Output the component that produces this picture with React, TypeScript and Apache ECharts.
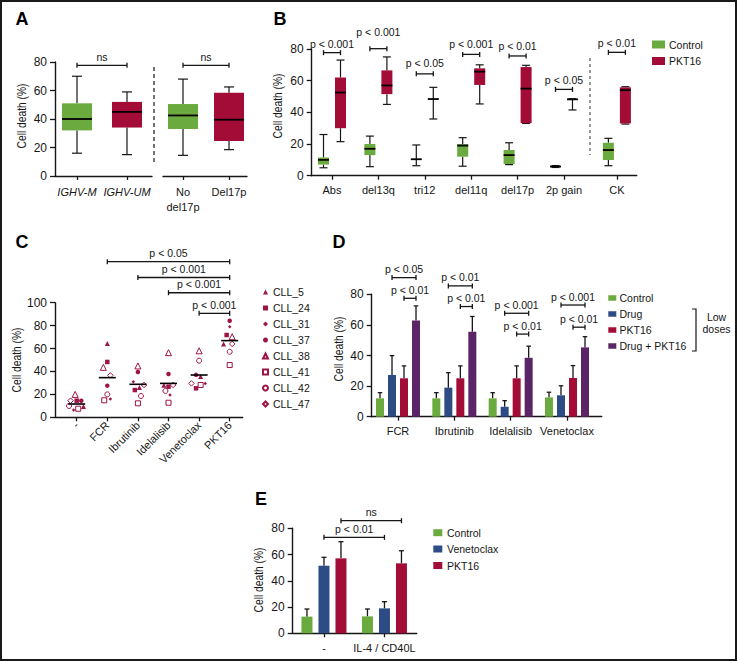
import React, { useEffect, useRef } from 'react';
import * as echarts from 'echarts';

// ---------------- Panel A ----------------
const A_LEFT_CATS = ['IGHV-M', 'IGHV-UM'];
const A_RIGHT_CATS = ['No\ndel17p', 'Del17p'];
// [min, q1, median, q3, max]
const A_LEFT_BOXES = [
  [16, 32, 40, 51, 70],
  [15, 34, 45, 52, 59],
];
const A_RIGHT_BOXES = [
  [14.5, 33, 42.5, 50.5, 68],
  [18.5, 24.5, 39.5, 58.5, 62.5],
];
const A_SIG_TEXT = ['ns', 'ns'];
const A_SIG_Y = [77.7, 77.7];

// ---------------- Panel B ----------------
const B_CATS = ['Abs', 'del13q', 'tri12', 'del11q', 'del17p', '2p gain', 'CK'];
const B_CONTROL = [
  [5, 7, 10, 11.5, 26],
  [5.7, 13, 17, 20, 25],
  [6.3, 10.4, 10.4, 10.4, 19.4],
  [6, 12, 19, 20, 24],
  [7, 7.4, 13, 16.2, 20.8],
  [5.2, 5.5, 5.8, 6.1, 6.4],
  [6.3, 9.9, 16.2, 20.8, 23.6],
];
const B_PKT16 = [
  [21.5, 30, 52.5, 62, 73],
  [45, 51.5, 57, 66.5, 75],
  [35.8, 48.4, 48.4, 48.4, 55.8],
  [45.3, 57.3, 65.7, 67.8, 70],
  [33, 33.2, 55, 68.6, 69.7],
  [41.5, 48, 48.2, 48.4, 48.6],
  [32.6, 33, 54, 55.8, 56.2],
];
const B_SIG_TEXT = ['p < 0.001', 'p < 0.001', 'p < 0.05', 'p < 0.001', 'p < 0.01', 'p < 0.05', 'p < 0.01'];
const B_SIG_Y = [77.7, 80.2, 64.3, 76.6, 75.6, 54.5, 77.9];

// ---------------- Panel C ----------------
const C_CATS = ['-', 'FCR', 'Ibrutinib', 'Idelalisib', 'Venetoclax', 'PKT16'];
const C_SAMPLES = ['CLL_5', 'CLL_24', 'CLL_31', 'CLL_37', 'CLL_38', 'CLL_41', 'CLL_42', 'CLL_47'];
const C_VALUES = [
  [9.5, 64.5, 26, 28, 35.5, 64],
  [14.5, 48.3, 23.8, 26.7, 25.3, 71.8],
  [6.4, 16, 31, 19.4, 29.6, 79],
  [14.5, 27.6, 39.5, 37.8, 37, 84.3],
  [20, 43.6, 44.8, 56.4, 58, 70.3],
  [7.5, 14.8, 12.2, 12.7, 28.2, 45.6],
  [9.9, 20, 18.6, 23, 49.4, 57.2],
  [14.5, 36.6, 28.2, 28.2, 29.6, 64],
];
// horizontal scatter of each point inside its column
const C_JITTER = [
  [0.22, 0, 0.05, -0.15, 0.05, -0.2],
  [0, 0, -0.1, 0, -0.1, -0.1],
  [-0.1, 0.1, -0.15, 0.05, 0.2, 0],
  [0.15, 0, 0, 0, -0.1, 0],
  [-0.05, -0.13, 0, 0, 0, 0.08],
  [0.05, -0.1, 0, 0, 0.05, 0],
  [-0.25, 0, 0.1, -0.1, 0, 0],
  [-0.2, 0.1, 0.2, 0.15, -0.25, 0.08],
];
const C_MEDIANS = [11.6, 34.6, 28.8, 29.6, 36.9, 66.9];
const C_SIG_FROM = [1, 2, 3, 4];
const C_SIG_TEXT = ['p < 0.05', 'p < 0.001', 'p < 0.001', 'p < 0.001'];
const C_SIG_Y = [135.8, 122, 108.7, 90.7];

// ---------------- Panel D ----------------
const D_CATS = ['FCR', 'Ibrutinib', 'Idelalisib', 'Venetoclax'];
const D_SERIES = ['Control', 'Drug', 'PKT16', 'Drug + PKT16'];
const D_CONTROL = [12, 12, 12, 12.6];
const D_CONTROL_ERR = [3.7, 3.7, 3.7, 3.4];
const D_DRUG = [27.3, 19, 6.5, 14];
const D_DRUG_ERR = [12.6, 9.8, 4, 6.2];
const D_PKT16 = [25.1, 25.1, 25.1, 25.3];
const D_PKT16_ERR = [8.1, 8.1, 8.1, 8.1];
const D_COMBO = [62.8, 55.5, 38.5, 45.3];
const D_COMBO_ERR = [9.6, 10, 7.6, 7];
const D_SIG_TEXT_1 = ['p < 0.05', 'p < 0.01', 'p < 0.001', 'p < 0.001'];
const D_SIG_Y_1 = [90.9, 85.5, 67.6, 73];
const D_SIG_TEXT_2 = ['p < 0.01', 'p < 0.01', 'p < 0.01', 'p < 0.01'];
const D_SIG_Y_2 = [77.4, 72, 54, 58.5];

// ---------------- Panel E ----------------
const E_CATS = ['-', 'IL-4 / CD40L'];
const E_SERIES = ['Control', 'Venetoclax', 'PKT16'];
const E_CONTROL = [12.7, 12.9];
const E_CONTROL_ERR = [5.8, 5.6];
const E_VENETOCLAX = [51.5, 19];
const E_VENETOCLAX_ERR = [6.4, 5.1];
const E_PKT16 = [57.1, 53.3];
const E_PKT16_ERR = [12.7, 9.6];
const E_SIG_TEXT = ['p < 0.01', 'ns'];
const E_SIG_SLOT = [1, 2];
const E_SIG_Y = [73.1, 85.8];

// ---------------- styling ----------------
const FONT = "'Liberation Sans', Arial, Helvetica, sans-serif";
const INK = '#161616';
const GREEN = '#6aaa3e';
const RED = '#a30c37';
const BLUE = '#2d4b84';
const PURPLE = '#5a2466';
const MAROON = '#9e1446';
// extra lift (px) of the p-value labels in panel B, so that neighbours do not collide
const B_LABEL_LIFT = [0, 8, 2, 1.5, 1, 1, 1];

const txt = (extra: any) => ({ fontFamily: FONT, fill: INK, ...extra });

function xAxisDef(gridIndex: number, min: number, max: number, positions: number[], names: string[], label: any = {}) {
  const nameAt = (v: number) => {
    const i = positions.findIndex((p) => Math.abs(p - v) < 1e-6);
    return i >= 0 ? names[i] : '';
  };
  return {
    type: 'value', gridIndex, min, max,
    axisLine: { show: true, onZero: false, lineStyle: { color: INK, width: 1.4 } },
    axisTick: { show: true, customValues: positions, length: 4, lineStyle: { color: INK, width: 1.3 } },
    axisLabel: { show: true, customValues: positions, formatter: nameAt, color: INK, fontSize: 11, fontFamily: FONT, margin: 8, ...label },
    splitLine: { show: false },
  };
}

function yAxisDef(gridIndex: number, max: number, show = true) {
  return {
    type: 'value', gridIndex, min: 0, max, interval: 20, show,
    axisLine: { show: true, onZero: false, lineStyle: { color: INK, width: 1.4 } },
    axisTick: { show: true, length: 5, lineStyle: { color: INK, width: 1.3 } },
    axisLabel: { color: INK, fontSize: 12, fontFamily: FONT, margin: 8 },
    splitLine: { show: false },
  };
}

function boxRender(color: (i: number) => string, offset: number, width: number, cap: number) {
  return (params: any, api: any) => {
    const x = api.value(0);
    const c = (v: number) => api.coord([x, v]);
    const pMin = c(api.value(1));
    const yMin = pMin[1];
    const yQ1 = c(api.value(2))[1];
    const yMed = c(api.value(3))[1];
    const yQ3 = c(api.value(4))[1];
    const yMax = c(api.value(5))[1];
    const cx = pMin[0] + offset;
    const hw = width / 2;
    const hc = cap / 2;
    const ls = { stroke: INK, lineWidth: 1.2 };
    return {
      type: 'group',
      children: [
        { type: 'line', shape: { x1: cx, y1: yMax, x2: cx, y2: yQ3 }, style: ls },
        { type: 'line', shape: { x1: cx, y1: yQ1, x2: cx, y2: yMin }, style: ls },
        { type: 'line', shape: { x1: cx - hc, y1: yMax, x2: cx + hc, y2: yMax }, style: ls },
        { type: 'line', shape: { x1: cx - hc, y1: yMin, x2: cx + hc, y2: yMin }, style: ls },
        { type: 'rect', shape: { x: cx - hw, y: yQ3, width, height: Math.max(0, yQ1 - yQ3) }, style: { fill: color(params.dataIndex) } },
        { type: 'line', shape: { x1: cx - hw, y1: yMed, x2: cx + hw, y2: yMed }, style: { stroke: '#000', lineWidth: 1.8 } },
      ],
    };
  };
}

function barRender(color: string, offset: number, width: number, cap: number) {
  return (_params: any, api: any) => {
    const x = api.value(0);
    const v = api.value(1);
    const e = api.value(2);
    const p0 = api.coord([x, 0]);
    const p1 = api.coord([x, v]);
    const p2 = api.coord([x, v + e]);
    const cx = p0[0] + offset;
    const ls = { stroke: INK, lineWidth: 1.3 };
    return {
      type: 'group',
      children: [
        { type: 'line', shape: { x1: cx, y1: p1[1], x2: cx, y2: p2[1] }, style: ls },
        { type: 'line', shape: { x1: cx - cap / 2, y1: p2[1], x2: cx + cap / 2, y2: p2[1] }, style: ls },
        { type: 'rect', shape: { x: cx - width / 2, y: p1[1], width, height: p0[1] - p1[1] }, style: { fill: color } },
      ],
    };
  };
}

// data: [x1, slot1, x2, slot2, y]
function bracketRender(slotPx: number[], labels: string[], lift: number[] = []) {
  return (params: any, api: any) => {
    const a = api.coord([api.value(0), api.value(4)]);
    const b = api.coord([api.value(2), api.value(4)]);
    const x1 = a[0] + slotPx[api.value(1)];
    const x2 = b[0] + slotPx[api.value(3)];
    const y = a[1];
    const ls = { stroke: INK, lineWidth: 1.3 };
    return {
      type: 'group',
      children: [
        { type: 'line', shape: { x1, y1: y, x2, y2: y }, style: ls },
        { type: 'line', shape: { x1, y1: y - 2.5, x2: x1, y2: y + 2.5 }, style: ls },
        { type: 'line', shape: { x1: x2, y1: y - 2.5, x2, y2: y + 2.5 }, style: ls },
        {
          type: 'text', x: (x1 + x2) / 2, y: y - 3 - (lift[params.dataIndex] || 0),
          style: txt({ text: labels[params.dataIndex], fontSize: 10.5, align: 'center', textAlign: 'center', verticalAlign: 'bottom', textVerticalAlign: 'bottom' }),
        },
      ],
    };
  };
}

const B_POS = B_CATS.map((_, i) => (i === B_CATS.length - 1 ? i + 0.14 : i));

function buildOption(): any {
  const grids = [
    { left: 55, top: 62, width: 97, height: 114 },
    { left: 163, top: 62, width: 84, height: 114 },
    { left: 311.7, top: 49, width: 325, height: 126.7 },
    { left: 55, top: 302.7, width: 187.7, height: 114.6 },
    { left: 371.7, top: 294.3, width: 230, height: 122.4 },
    { left: 292.7, top: 528.3, width: 124, height: 105 },
  ];
  const xAxes = [
    xAxisDef(0, -0.44, 1.5, [0, 1], A_LEFT_CATS, { fontStyle: 'italic', lineHeight: 15 }),
    xAxisDef(1, -0.435, 1.391, [0, 1], A_RIGHT_CATS, { lineHeight: 15 }),
    xAxisDef(2, -0.4375, 6.567, B_POS, B_CATS, { margin: 9 }),
    xAxisDef(3, -0.709, 5.425, C_CATS.map((_, i) => i), C_CATS, { rotate: 45, margin: 6 }),
    xAxisDef(4, -0.467, 3.616, D_CATS.map((_, i) => i), D_CATS, { margin: 9 }),
    xAxisDef(5, -0.517, 1.533, E_CATS.map((_, i) => i), E_CATS, { margin: 9 }),
  ];
  const yAxes = [
    yAxisDef(0, 80),
    yAxisDef(1, 80, false),
    yAxisDef(2, 80),
    yAxisDef(3, 100),
    yAxisDef(4, 80),
    yAxisDef(5, 80),
  ];

  const boxColors = (i: number) => [GREEN, RED][i];
  const series: any[] = [];
  const ax = (i: number) => ({ xAxisIndex: i, yAxisIndex: i });

  // Panel A
  series.push({ type: 'custom', name: 'A left', ...ax(0), clip: false, silent: true, renderItem: boxRender(boxColors, 0, 30, 10), data: A_LEFT_BOXES.map((b, i) => [i, ...b]) });
  series.push({ type: 'custom', name: 'A right', ...ax(1), clip: false, silent: true, renderItem: boxRender(boxColors, 0, 30, 10), data: A_RIGHT_BOXES.map((b, i) => [i, ...b]) });
  series.push({ type: 'custom', name: 'A sig left', ...ax(0), clip: false, silent: true, renderItem: bracketRender([0], [A_SIG_TEXT[0]]), data: [[0, 0, 1, 0, A_SIG_Y[0]]] });
  series.push({ type: 'custom', name: 'A sig right', ...ax(1), clip: false, silent: true, renderItem: bracketRender([0], [A_SIG_TEXT[1]]), data: [[0, 0, 1, 0, A_SIG_Y[1]]] });

  // Panel B
  series.push({ type: 'custom', name: 'Control', ...ax(2), clip: false, silent: true, renderItem: boxRender(() => GREEN, -8.5, 11, 8), data: B_CONTROL.map((b, i) => [B_POS[i], ...b]) });
  series.push({ type: 'custom', name: 'PKT16', ...ax(2), clip: false, silent: true, renderItem: boxRender(() => RED, 8.5, 11, 8), data: B_PKT16.map((b, i) => [B_POS[i], ...b]) });
  series.push({ type: 'custom', name: 'B sig', ...ax(2), clip: false, silent: true, renderItem: bracketRender([-8.5, 8.5], B_SIG_TEXT, B_LABEL_LIFT), data: B_SIG_Y.map((y, i) => [B_POS[i], 0, B_POS[i], 1, y]) });

  // Panel C
  const symbols = [
    { symbol: 'triangle', size: 5, open: false },
    { symbol: 'rect', size: 4.5, open: false },
    { symbol: 'diamond', size: 3.5, open: false },
    { symbol: 'circle', size: 4.5, open: false },
    { symbol: 'triangle', size: 6, open: true },
    { symbol: 'rect', size: 5, open: true },
    { symbol: 'circle', size: 5, open: true },
    { symbol: 'diamond', size: 5.5, open: true },
  ];
  C_SAMPLES.forEach((name, s) => {
    const sym = symbols[s];
    series.push({
      type: 'scatter', name, ...ax(3), silent: true,
      symbol: sym.symbol, symbolSize: sym.size,
      itemStyle: sym.open ? { color: '#fff', borderColor: MAROON, borderWidth: 1, opacity: 1 } : { color: MAROON, opacity: 1 },
      data: C_VALUES[s].map((v, i) => [i + C_JITTER[s][i], v]),
      z: 3,
    });
  });
  series.push({
    type: 'scatter', name: 'median', ...ax(3), silent: true, symbol: 'rect', symbolSize: [17, 1.6],
    itemStyle: { color: '#000', opacity: 1 }, data: C_MEDIANS.map((m, i) => [i, m]), z: 4,
  });
  series.push({
    type: 'custom', name: 'C sig', ...ax(3), clip: false, silent: true, renderItem: bracketRender([0], C_SIG_TEXT),
    data: C_SIG_Y.map((y, i) => [C_SIG_FROM[i], 0, C_CATS.length - 1, 0, y]),
  });

  // Panel D
  const dSlots = [-18, -6, 6, 18];
  const dData = [
    [D_CONTROL, D_CONTROL_ERR, GREEN],
    [D_DRUG, D_DRUG_ERR, BLUE],
    [D_PKT16, D_PKT16_ERR, RED],
    [D_COMBO, D_COMBO_ERR, PURPLE],
  ] as [number[], number[], string][];
  dData.forEach(([vals, errs, color], k) => {
    series.push({
      type: 'custom', name: D_SERIES[k], ...ax(4), clip: false, silent: true,
      renderItem: barRender(color, dSlots[k], 8, 4.5),
      data: vals.map((v, i) => [i, v, errs[i]]),
    });
  });
  series.push({
    type: 'custom', name: 'D sig', ...ax(4), clip: false, silent: true,
    renderItem: bracketRender(dSlots, [...D_SIG_TEXT_1, ...D_SIG_TEXT_2]),
    data: [...D_SIG_Y_1.map((y, i) => [i, 1, i, 3, y]), ...D_SIG_Y_2.map((y, i) => [i, 2, i, 3, y])],
  });

  // Panel E
  const eSlots = [-17, 0, 17];
  const eData = [
    [E_CONTROL, E_CONTROL_ERR, GREEN],
    [E_VENETOCLAX, E_VENETOCLAX_ERR, BLUE],
    [E_PKT16, E_PKT16_ERR, RED],
  ] as [number[], number[], string][];
  eData.forEach(([vals, errs, color], k) => {
    series.push({
      type: 'custom', name: E_SERIES[k], ...ax(5), clip: false, silent: true,
      renderItem: barRender(color, eSlots[k], 11, 5),
      data: vals.map((v, i) => [i, v, errs[i]]),
    });
  });
  series.push({
    type: 'custom', name: 'E sig', ...ax(5), clip: false, silent: true,
    renderItem: bracketRender(eSlots, E_SIG_TEXT),
    data: E_SIG_Y.map((y, i) => [0, E_SIG_SLOT[i], 1, E_SIG_SLOT[i], y]),
  });

  // ---------- graphics: frame, panel letters, axis names, legends ----------
  const letter = (t: string, x: number, y: number) => ({
    type: 'text', x, y, style: txt({ text: t, fontSize: 18, fontWeight: 'bold', fill: '#000', align: 'center', textAlign: 'center', verticalAlign: 'middle', textVerticalAlign: 'middle' }),
  });
  const yName = (x: number, y: number) => ({
    type: 'text', x, y, rotation: Math.PI / 2, scaleX: 0.82,
    style: txt({ text: 'Cell death (%)', fontSize: 12.5, align: 'center', textAlign: 'center', verticalAlign: 'middle', textVerticalAlign: 'middle' }),
  });
  const legendItem = (label: string, color: string, x: number, y: number, w: number, h: number, textX: number) => [
    { type: 'rect', shape: { x, y: y - h / 2, width: w, height: h }, style: { fill: color } },
    { type: 'text', x: textX, y, style: txt({ text: label, fontSize: 10.5, align: 'left', textAlign: 'left', verticalAlign: 'middle', textVerticalAlign: 'middle' }) },
  ];

  const graphic: any[] = [
    { type: 'rect', shape: { x: 1, y: 1, width: 735, height: 659 }, style: { fill: 'none', stroke: '#1a1a1a', lineWidth: 2 }, z: 100 },
    letter('A', 22, 19),
    letter('B', 280, 19),
    letter('C', 22, 242),
    letter('D', 339, 242),
    letter('E', 261, 499),
    yName(22, 116),
    yName(278, 106),
    yName(17, 360),
    yName(338.5, 349),
    yName(259, 580),
    { type: 'line', shape: { x1: 154, y1: 67, x2: 154, y2: 163 }, style: { stroke: INK, lineWidth: 1.2, lineDash: [4, 3] } },
    { type: 'line', shape: { x1: 590, y1: 58, x2: 590, y2: 155 }, style: { stroke: '#555', lineWidth: 1.2, lineDash: [3, 3] } },
    ...legendItem('Control', GREEN, 652, 44.5, 13, 8, 669),
    ...legendItem('PKT16', RED, 652, 61, 13, 8, 669),
    ...D_SERIES.flatMap((n, k) => legendItem(n, [GREEN, BLUE, RED, PURPLE][k], 608.3, [298, 314, 330, 346][k], 8, 5.5, 619.5)),
    { type: 'polyline', shape: { points: [[692, 309], [696, 309], [696, 351], [692, 351]] }, style: { stroke: INK, lineWidth: 1.2, fill: 'none' } },
    { type: 'text', x: 716.5, y: 316.5, style: txt({ text: 'Low', fontSize: 10.5, align: 'center', textAlign: 'center', verticalAlign: 'middle', textVerticalAlign: 'middle' }) },
    { type: 'text', x: 716.5, y: 329, style: txt({ text: 'doses', fontSize: 10.5, align: 'center', textAlign: 'center', verticalAlign: 'middle', textVerticalAlign: 'middle' }) },
    ...E_SERIES.flatMap((n, k) => legendItem(n, [GREEN, BLUE, RED][k], 433.3, [532.7, 549, 565.5][k], 9, 7, 447)),
  ];

  return {
    animation: false,
    backgroundColor: '#fff',
    textStyle: { fontFamily: FONT },
    grid: grids,
    xAxis: xAxes,
    yAxis: yAxes,
    legend: [{
      data: C_SAMPLES, orient: 'vertical', left: 262, top: 285, padding: 0, itemWidth: 5, itemHeight: 5, itemGap: 2,
      selectedMode: false, textStyle: { color: INK, fontSize: 10.5, fontFamily: FONT, lineHeight: 14 },
    }],
    series,
    graphic,
  };
}

export default function App() {
  const ref = useRef<HTMLDivElement>(null);
  useEffect(() => {
    if (!ref.current) return;
    const chart = echarts.init(ref.current, null, { renderer: 'svg' });
    chart.setOption(buildOption());
    return () => chart.dispose();
  }, []);
  return <div ref={ref} style={{ position: 'absolute', left: 0, top: 0, width: 738, height: 662, background: '#fff' }} />;
}
